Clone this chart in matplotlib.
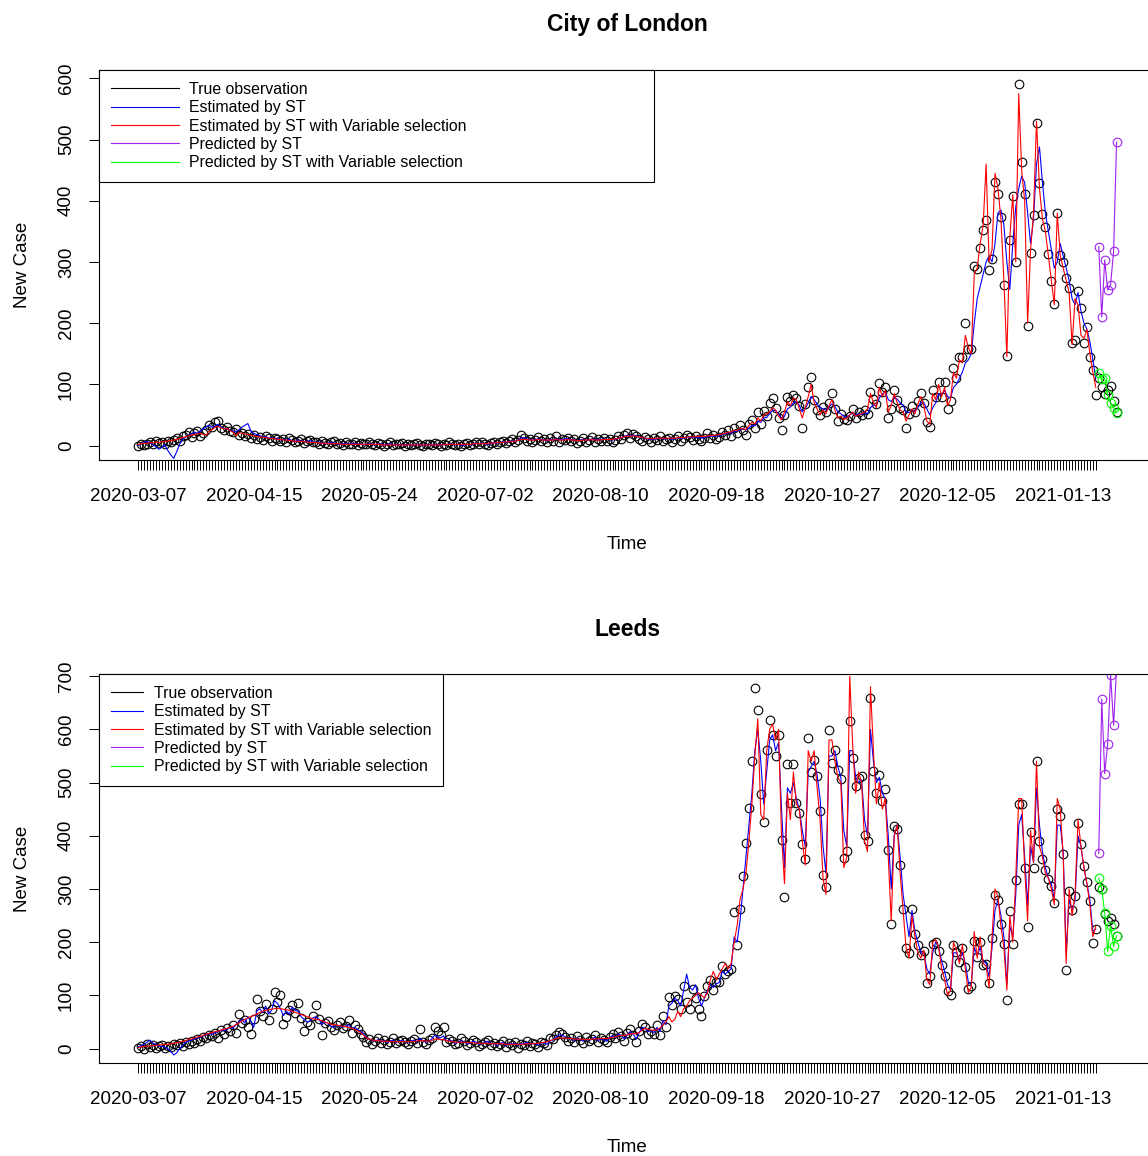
import matplotlib
matplotlib.use("Agg")
import matplotlib.pyplot as plt
from matplotlib.lines import Line2D
from matplotlib.legend_handler import HandlerLine2D
import numpy as np
import pandas as pd

plt.rcParams['font.family'] = ['Liberation Sans', 'DejaVu Sans']

start_date = "2020-03-07"
label_step = 39

legend_labels = ["True observation", "Estimated by ST",
                 "Estimated by ST with Variable selection",
                 "Predicted by ST", "Predicted by ST with Variable selection"]

# ---- City of London ----
london_obs = [
    0, 2, 1, 3, 5, 2, 8, 4, 6, 3,
    7, 5, 9, 12, 8, 15, 18, 22, 14, 20,
    24, 16, 21, 26, 33, 30, 38, 40, 29, 26,
    31, 24, 22, 27, 18, 20, 15, 19, 13, 17,
    11, 14, 9, 16, 12, 8, 13, 10, 7, 11,
    6, 12, 9, 5, 8, 10, 4, 7, 9, 5,
    6, 3, 8, 4, 2, 5, 7, 3, 4, 1,
    5, 2, 3, 6, 1, 4, 2, 3, 5, 2,
    1, 4, 3, 0, 2, 5, 1, 3, 2, 4,
    0, 3, 1, 2, 4, 1, 0, 3, 2, 1,
    4, 2, 0, 3, 1, 5, 2, 1, 3, 0,
    2, 4, 1, 3, 6, 2, 5, 3, 1, 4,
    6, 3, 5, 8, 4, 7, 10, 6, 9, 18,
    12, 8, 11, 6, 9, 14, 7, 10, 5, 12,
    8, 15, 6, 11, 9, 13, 7, 10, 4, 8,
    12, 6, 9, 14, 5, 10, 7, 13, 8, 11,
    6, 9, 15, 10, 18, 21, 13, 19, 16, 11,
    8, 14, 10, 6, 12, 9, 15, 7, 11, 13,
    5, 10, 16, 8, 12, 18, 14, 9, 15, 11,
    7, 13, 20, 12, 17, 10, 14, 22, 18, 25,
    15, 28, 20, 33, 26, 18, 36, 41, 29, 55,
    35, 56, 48, 70, 77, 62, 45, 26, 50, 80,
    72, 83, 78, 64, 29, 68, 95, 112, 75, 58,
    50, 63, 55, 70, 86, 60, 40, 52, 43, 41,
    48, 60, 45, 55, 50, 58, 52, 88, 76, 68,
    103, 88, 95, 45, 60, 91, 75, 62, 58, 28,
    51, 65, 55, 72, 86, 70, 39, 31, 91, 80,
    104, 80, 104, 59, 72, 127, 111, 145, 145, 200,
    157, 157, 294, 288, 323, 352, 369, 287, 305, 431,
    411, 374, 263, 147, 336, 408, 300, 590, 463, 411,
    196, 315, 377, 527, 429, 378, 357, 313, 269, 231,
    380, 312, 300, 274, 258, 168, 173, 253, 225, 168,
    194, 145, 124, 83, 110, 95, 85, 91, 97, 72, 55]

london_st = [
    0, 3, 5, 7, 4, 2, -2, -6, -3, 1,
    -8, -15, -21, -10, 2, 10, 14, 17, 19, 22,
    20, 24, 27, 31, 33, 30, 32, 35, 30, 28,
    27, 25, 24, 22, 26, 30, 33, 36, 24, 20,
    18, 16, 14, 15, 12, 13, 11, 12, 9, 10,
    9, 10, 8, 7, 9, 8, 6, 7, 8, 6,
    5, 6, 5, 3, 4, 5, 4, 3, 2, 3,
    3, 2, 4, 3, 2, 3, 1, 2, 3, 2,
    1, 2, 3, 1, 2, 3, 1, 2, 1, 2,
    1, 2, 1, 0, 2, 1, 0, 1, 2, 1,
    2, 1, 0, 2, 1, 3, 2, 1, 2, 0,
    1, 2, 1, 2, 4, 3, 4, 3, 2, 3,
    5, 4, 5, 6, 5, 6, 8, 7, 8, 12,
    13, 11, 10, 9, 10, 11, 10, 9, 8, 10,
    9, 11, 10, 10, 11, 11, 10, 9, 8, 9,
    10, 9, 9, 11, 10, 10, 9, 11, 10, 10,
    9, 10, 12, 13, 15, 17, 16, 17, 16, 14,
    12, 12, 11, 10, 10, 11, 12, 11, 11, 12,
    10, 11, 13, 12, 12, 14, 14, 13, 14, 13,
    12, 13, 15, 15, 16, 15, 16, 18, 19, 21,
    20, 23, 23, 26, 27, 25, 29, 33, 32, 40,
    38, 45, 46, 52, 58, 57, 52, 45, 48, 60,
    63, 70, 72, 66, 55, 60, 70, 80, 75, 68,
    62, 60, 58, 63, 68, 64, 55, 52, 48, 46,
    50, 53, 50, 52, 51, 53, 52, 62, 66, 65,
    78, 84, 88, 75, 72, 78, 76, 70, 66, 55,
    54, 57, 56, 62, 70, 70, 60, 50, 62, 70,
    85, 82, 90, 80, 78, 95, 100, 110, 120, 135,
    140, 150, 200, 240, 260, 280, 300, 310, 300, 330,
    380, 385, 360, 300, 255, 330, 390, 420, 440, 430,
    380, 330, 370, 460, 488, 430, 380, 350, 320, 290,
    300, 330, 310, 290, 270, 240, 230, 250, 220, 200,
    190, 170, 140, 110]

london_vs = [
    2, 3, 4, 3, 5, 4, 6, 5, 6, 7,
    7, 8, 9, 10, 12, 13, 14, 16, 17, 18,
    19, 20, 18, 17, 24, 26, 30, 31, 29, 27,
    28, 24, 22, 16, 21, 20, 19, 18, 17, 16,
    15, 14, 14, 13, 12, 12, 11, 10, 10, 9,
    9, 8, 8, 7, 7, 7, 6, 6, 5, 5,
    5, 4, 4, 4, 3, 3, 3, 3, 3, 2,
    2, 2, 2, 2, 2, 2, 2, 2, 2, 2,
    2, 2, 1, 1, 1, 1, 1, 1, 1, 1,
    1, 1, 1, 1, 1, 1, 1, 1, 1, 1,
    1, 1, 1, 1, 2, 2, 2, 2, 2, 2,
    2, 2, 2, 3, 3, 3, 3, 3, 4, 4,
    4, 5, 5, 5, 6, 6, 7, 7, 8, 10,
    10, 10, 9, 9, 9, 10, 9, 9, 9, 9,
    9, 10, 9, 9, 9, 10, 9, 9, 8, 8,
    9, 9, 9, 10, 9, 9, 9, 10, 10, 10,
    10, 11, 12, 13, 14, 16, 15, 16, 15, 14,
    13, 12, 12, 11, 11, 12, 12, 12, 12, 12,
    12, 12, 13, 13, 13, 14, 14, 14, 15, 15,
    15, 15, 16, 16, 17, 17, 18, 19, 20, 22,
    22, 25, 24, 28, 27, 26, 33, 38, 35, 45,
    40, 50, 52, 55, 62, 58, 48, 42, 55, 72,
    65, 78, 75, 60, 45, 62, 80, 100, 70, 60,
    50, 58, 52, 65, 75, 58, 45, 48, 42, 45,
    50, 55, 48, 50, 52, 55, 60, 85, 70, 62,
    95, 80, 90, 55, 65, 85, 70, 58, 55, 40,
    50, 60, 52, 68, 80, 65, 40, 35, 85, 75,
    100, 80, 95, 65, 75, 120, 110, 140, 135, 180,
    160, 150, 280, 290, 330, 360, 460, 300, 320, 445,
    420, 370, 270, 145, 340, 410, 300, 575, 450, 400,
    200, 320, 380, 530, 420, 370, 350, 310, 270, 230,
    380, 310, 290, 270, 250, 165, 240, 230, 180, 175,
    190, 150, 120, 95]

london_pred_st = [325, 210, 303, 254, 263, 318, 496]
london_pred_vs = [119, 108, 110, 83, 70, 62, 54]

# ---- Leeds ----
leeds_obs = [
    2, 5, 0, 8, 3, 6, 1, 4, 7, 2,
    5, 3, 8, 6, 10, 4, 12, 9, 15, 11,
    18, 14, 22, 20, 26, 24, 30, 19, 35, 28,
    38, 33, 44, 30, 65, 48, 53, 40, 28, 55,
    94, 70, 62, 84, 53, 75, 106, 88, 100, 47,
    60, 72, 81, 66, 86, 58, 34, 50, 45, 62,
    81, 55, 25, 48, 52, 40, 35, 44, 50, 38,
    42, 53, 30, 45, 36, 28, 22, 12, 18, 9,
    15, 20, 11, 16, 8, 13, 19, 10, 14, 17,
    12, 8, 15, 18, 10, 37, 13, 9, 16, 20,
    41, 34, 25, 40, 12, 18, 15, 8, 11, 19,
    14, 6, 10, 17, 12, 5, 9, 13, 16, 7,
    11, 4, 8, 14, 3, 10, 6, 12, 2, 9,
    7, 15, 5, 11, 8, 3, 13, 10, 6, 20,
    18, 25, 31, 28, 22, 15, 19, 12, 24, 17,
    10, 21, 14, 18, 25, 13, 20, 16, 12, 22,
    27, 19, 31, 24, 15, 30, 37, 25, 12, 34,
    47, 40, 28, 33, 28, 45, 26, 62, 40, 97,
    82, 99, 94, 75, 118, 87, 75, 112, 96, 75,
    62, 99, 118, 128, 110, 125, 125, 156, 140, 145,
    150, 256, 194, 262, 325, 387, 453, 540, 677, 637,
    478, 425, 562, 617, 590, 550, 590, 393, 284, 534,
    462, 534, 462, 443, 384, 356, 584, 520, 543, 512,
    446, 326, 303, 599, 537, 562, 524, 506, 359, 372,
    615, 546, 493, 509, 512, 402, 390, 659, 521, 480,
    515, 465, 487, 374, 234, 418, 413, 346, 263, 190,
    180, 262, 215, 195, 175, 183, 124, 136, 197, 200,
    184, 157, 137, 109, 100, 194, 181, 162, 190, 153,
    112, 118, 203, 172, 200, 157, 159, 124, 207, 288,
    280, 234, 197, 92, 259, 197, 317, 459, 459, 340,
    229, 407, 340, 540, 390, 356, 335, 318, 306, 274,
    450, 437, 365, 147, 296, 261, 287, 424, 384, 343,
    313, 278, 198, 224, 304, 300, 253, 240, 245, 234, 212]

leeds_st = [
    3, 6, 8, 12, 16, 10, 8, 5, 4, 3,
    0, -5, -12, -8, 0, 6, 12, 14, 16, 18,
    20, 22, 24, 26, 28, 27, 30, 32, 35, 33,
    36, 40, 38, 45, 50, 55, 48, 60, 52, 40,
    70, 75, 68, 80, 65, 72, 90, 85, 75, 62,
    70, 65, 78, 72, 70, 60, 55, 50, 52, 58,
    60, 55, 45, 50, 48, 42, 40, 44, 42, 40,
    42, 45, 38, 40, 36, 32, 28, 20, 18, 15,
    14, 17, 13, 15, 12, 14, 16, 12, 14, 15,
    13, 12, 14, 16, 12, 20, 15, 12, 14, 18,
    25, 22, 20, 24, 15, 16, 14, 10, 12, 15,
    13, 9, 10, 14, 12, 8, 10, 12, 14, 9,
    10, 6, 8, 12, 5, 10, 8, 10, 6, 9,
    8, 12, 8, 10, 9, 6, 11, 10, 8, 15,
    16, 22, 26, 25, 22, 18, 20, 15, 20, 18,
    14, 18, 16, 17, 22, 15, 18, 17, 14, 20,
    24, 20, 28, 24, 18, 26, 32, 27, 18, 30,
    40, 38, 32, 34, 30, 40, 32, 52, 45, 80,
    85, 95, 90, 80, 110, 140, 115, 110, 120, 95,
    80, 95, 110, 120, 115, 122, 124, 145, 140, 145,
    150, 210, 200, 240, 300, 360, 420, 480, 560, 600,
    540, 460, 520, 580, 590, 560, 575, 450, 340, 490,
    480, 500, 470, 450, 410, 380, 520, 530, 540, 515,
    470, 380, 330, 550, 550, 560, 530, 510, 410, 380,
    560, 560, 510, 500, 505, 430, 400, 600, 540, 500,
    510, 480, 470, 400, 300, 400, 420, 360, 290, 250,
    210, 260, 220, 200, 180, 180, 150, 140, 180, 200,
    190, 165, 145, 120, 110, 180, 180, 165, 180, 160,
    125, 120, 190, 175, 190, 165, 160, 135, 190, 260,
    280, 250, 210, 120, 230, 210, 290, 420, 440, 360,
    270, 380, 350, 490, 420, 370, 340, 320, 310, 280,
    420, 420, 370, 180, 280, 260, 280, 400, 380, 340,
    310, 280, 220, 225]

leeds_vs = [
    2, 3, 4, 5, 5, 6, 6, 7, 7, 8,
    8, 9, 10, 11, 12, 14, 15, 17, 18, 20,
    22, 23, 25, 27, 29, 30, 32, 33, 35, 36,
    38, 40, 42, 45, 48, 52, 55, 58, 60, 62,
    65, 68, 70, 72, 73, 74, 75, 76, 75, 74,
    73, 72, 70, 68, 66, 64, 62, 60, 58, 56,
    55, 54, 52, 50, 48, 46, 45, 44, 43, 42,
    41, 40, 38, 36, 34, 30, 25, 20, 18, 16,
    15, 15, 14, 14, 14, 13, 13, 13, 13, 13,
    13, 13, 13, 13, 14, 15, 15, 14, 14, 15,
    18, 18, 17, 17, 15, 14, 13, 12, 12, 12,
    12, 11, 11, 11, 10, 10, 10, 10, 10, 9,
    9, 9, 9, 9, 8, 8, 8, 8, 8, 8,
    8, 9, 9, 9, 10, 10, 11, 12, 13, 15,
    17, 19, 20, 20, 20, 19, 19, 18, 18, 18,
    17, 17, 17, 18, 18, 18, 19, 19, 19, 20,
    21, 22, 24, 25, 25, 26, 28, 28, 28, 30,
    35, 38, 36, 35, 34, 36, 38, 45, 50, 60,
    50, 55, 70, 60, 75, 80, 90, 95, 100, 105,
    100, 95, 105, 130, 145, 130, 140, 150, 160, 150,
    160, 200, 230, 280, 300, 330, 390, 460, 550, 620,
    440, 430, 560, 600, 610, 580, 600, 400, 310, 480,
    430, 520, 460, 450, 390, 345, 560, 540, 560, 490,
    430, 320, 290, 580, 580, 540, 510, 500, 340, 360,
    700, 570, 480, 520, 500, 390, 370, 680, 560, 460,
    500, 450, 470, 360, 240, 400, 420, 330, 260, 190,
    170, 250, 210, 180, 170, 185, 130, 120, 200, 205,
    190, 150, 130, 100, 110, 200, 185, 160, 195, 150,
    105, 115, 220, 170, 210, 160, 155, 115, 210, 300,
    285, 230, 190, 110, 250, 200, 320, 470, 470, 340,
    240, 410, 350, 540, 380, 360, 330, 320, 300, 270,
    470, 450, 360, 160, 300, 250, 290, 430, 380, 340,
    310, 270, 210, 230]

leeds_pred_st = [367, 657, 517, 573, 702, 608, 715]
leeds_pred_vs = [320, 300, 255, 183, 231, 192, 212]

PURPLE = "#A020F0"
GREEN = "#00FF00"
colors = ["black", "#0000FF", "#FF0000", PURPLE, GREEN]


def draw_panel(fig, rect, title, obs, st, vs, pst, pvs, wide_legend):
    ax = fig.add_axes(rect)
    n = len(obs)
    days = np.arange(n)
    fit_days = np.arange(len(st))
    pred_days = np.arange(len(st), len(st) + len(pst))

    ax.plot(days, obs, ls="none", marker="o", ms=6.2, mfc="none",
            mec="black", mew=0.8)
    ax.plot(fit_days, st, color=colors[1], lw=0.8)
    ax.plot(fit_days, vs, color=colors[2], lw=0.8)
    ax.plot(pred_days, pst, color=PURPLE, lw=0.8, marker="o", ms=6.2,
            mfc="none", mew=0.8)
    ax.plot(pred_days, pvs, color=GREEN, lw=0.8, marker="o", ms=6.2,
            mfc="none", mew=0.8)

    top = max(obs)
    ax.set_xlim(-0.04 * (n - 1), 1.04 * (n - 1))
    ax.set_ylim(-0.04 * top, 1.04 * top)

    dates = pd.date_range(start_date, periods=n).strftime("%Y-%m-%d")
    ax.set_xticks(fit_days)
    ax.set_xticklabels([dates[i] if i % label_step == 0 else ""
                        for i in fit_days])
    ax.set_yticks(np.arange(0, 1.04 * top, 100))
    ax.tick_params(axis="both", direction="out", length=7.2, width=0.7,
                   labelsize=13.5, color="black")
    ax.tick_params(axis="x", pad=13)
    ax.tick_params(axis="y", pad=10, labelrotation=90)
    for lab in ax.get_yticklabels():
        lab.set_va("center")

    for sp in ax.spines.values():
        sp.set_linewidth(0.8)
        sp.set_color("black")

    h_px = rect[3] * fig.get_figheight() * fig.dpi
    w_px = rect[2] * fig.get_figwidth() * fig.dpi
    ax.set_title(title, fontsize=16.5, fontweight="bold",
                 y=1 + 45 / h_px, va="center", pad=0)
    ax.set_xlabel("Time", fontsize=13.5)
    ax.xaxis.set_label_coords(0.5, -76 / h_px)
    ax.set_ylabel("New Case", fontsize=13.5)
    ax.yaxis.set_label_coords(-68 / w_px, 0.5)

    handles = [Line2D([], [], color=c, lw=0.8) for c in colors]
    if wide_legend:
        leg = ax.legend(handles, legend_labels, loc="upper left",
                        bbox_to_anchor=(0, 1, 555 / w_px, 0), mode="expand",
                        borderaxespad=0, fancybox=False, framealpha=1,
                        edgecolor="black", fontsize=11.4, handlelength=4.3,
                        handletextpad=0.64, labelspacing=0.21, borderpad=0.75,
                        handler_map={Line2D: HandlerLine2D(marker_pad=0.7)})
    else:
        leg = ax.legend(handles, legend_labels, loc="upper left",
                        borderaxespad=0, fancybox=False, framealpha=1,
                        edgecolor="black", fontsize=11.4, handlelength=2.0,
                        handletextpad=0.72, labelspacing=0.21, borderpad=0.75,
                        handler_map={Line2D: HandlerLine2D(marker_pad=0.15)})
    leg.get_frame().set_linewidth(0.8)
    return ax


fig = plt.figure(figsize=(11.48, 11.56), dpi=100)
W, H = 1148.0, 1156.0
ax_w = 1056.7 / W
draw_panel(fig, [99 / W, 1 - 460 / H, ax_w, 390 / H], "City of London",
           london_obs, london_st, london_vs, london_pred_st, london_pred_vs,
           True)
draw_panel(fig, [99 / W, 1 - 1063 / H, ax_w, 389 / H], "Leeds",
           leeds_obs, leeds_st, leeds_vs, leeds_pred_st, leeds_pred_vs,
           False)
fig.savefig("out.png", dpi=100)
